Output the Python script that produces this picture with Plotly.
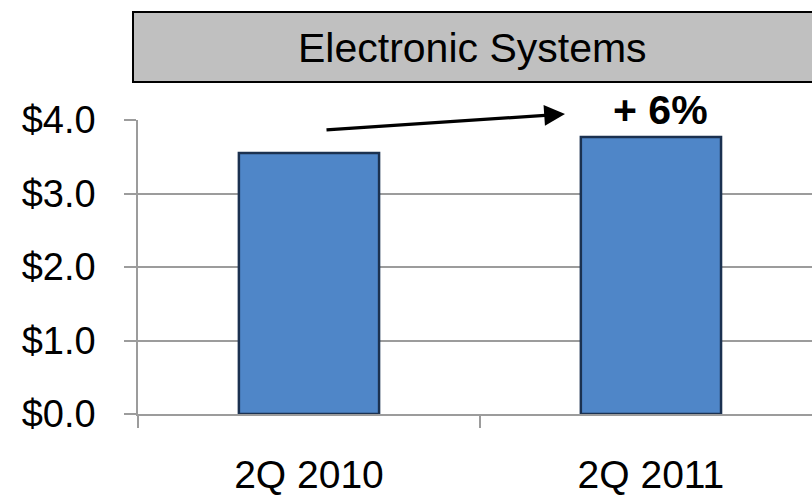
import plotly.graph_objects as go

# Quarterly sales, $ billions
quarters = ["2Q 2010", "2Q 2011"]
sales = [3.55, 3.77]
y_ticks = [0, 1, 2, 3, 4]
y_tick_text = ["$0.0", "$1.0", "$2.0", "$3.0", "$4.0"]
segment = "Electronic Systems"

W, H = 812, 495
L, R, T, B = 138, 0, 120, 81
pw, ph = W - L - R, H - T - B


def px(x):
    return (x - L) / pw


def py(y):
    return (H - B - y) / ph


FONT = "Liberation Sans, Arial, sans-serif"
GRID = "#9c9c9c"

growth = sales[1] / sales[0] - 1

fig = go.Figure(
    go.Bar(
        x=quarters,
        y=sales,
        width=0.41,
        marker=dict(color="#4f86c8", line=dict(color="#1b3150", width=2.5)),
        hoverinfo="skip",
    )
)

fig.update_layout(
    width=W,
    height=H,
    margin=dict(l=L, r=R, t=T, b=B, pad=0),
    paper_bgcolor="white",
    plot_bgcolor="white",
    showlegend=False,
    font=dict(family=FONT, color="black"),
    xaxis=dict(
        type="category",
        range=[-0.5, 1.471],
        tickson="boundaries",
        ticks="outside",
        ticklen=12,
        tickwidth=1.5,
        tickcolor=GRID,
        showline=True,
        linecolor=GRID,
        linewidth=1.5,
        showgrid=False,
        tickfont=dict(size=39, family=FONT),
        ticklabelstandoff=25,
    ),
    yaxis=dict(
        range=[0, 4],
        tickvals=y_ticks,
        ticktext=y_tick_text,
        ticks="outside",
        ticklen=12,
        tickwidth=1.5,
        tickcolor=GRID,
        showline=True,
        linecolor=GRID,
        linewidth=1.5,
        showgrid=True,
        gridcolor=GRID,
        gridwidth=1.5,
        zeroline=False,
        tickfont=dict(size=38, family=FONT),
        ticklabelstandoff=21,
    ),
    shapes=[
        dict(
            type="rect",
            xref="paper",
            yref="paper",
            x0=px(133),
            x1=px(830),
            y0=py(82),
            y1=py(12),
            fillcolor="#c0c0c0",
            line=dict(color="black", width=2),
            layer="above",
        )
    ],
    annotations=[
        dict(
            text=segment,
            xref="paper",
            yref="paper",
            x=px(472),
            y=py(48),
            xanchor="center",
            yanchor="middle",
            showarrow=False,
            font=dict(size=41, family=FONT, color="black"),
        ),
        dict(
            text="",
            xref="paper",
            yref="paper",
            x=px(565),
            y=py(114),
            ax=325 - 565,
            ay=130 - 114,
            axref="pixel",
            ayref="pixel",
            showarrow=True,
            arrowhead=2,
            arrowsize=1.3,
            arrowwidth=3.2,
            arrowcolor="black",
            standoff=0,
        ),
        dict(
            text=f"<b>+ {growth * 100:.0f}%</b>",
            xref="paper",
            yref="paper",
            x=px(660),
            y=py(110),
            xanchor="center",
            yanchor="middle",
            showarrow=False,
            font=dict(size=41, family=FONT, color="black"),
        ),
    ],
)

fig.write_html("out.html")
